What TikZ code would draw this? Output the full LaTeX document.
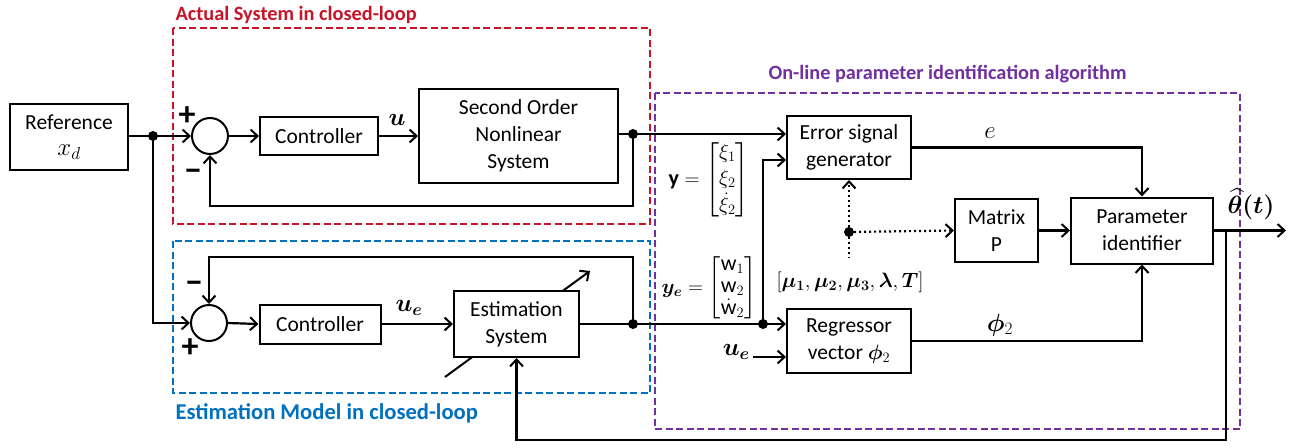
\documentclass[tikz,border=0pt]{standalone}
\usepackage{amsmath,bm}
\usepackage{fontspec}
\setmainfont{Carlito}
\usetikzlibrary{arrows.meta}
\definecolor{actred}{RGB}{200,20,40}
\definecolor{estblue}{RGB}{0,112,192}
\definecolor{idpurple}{RGB}{112,48,160}
\begin{document}
\begin{tikzpicture}[x=1pt,y=-1pt,
  font=\fontsize{21.5}{27}\selectfont,
  blk/.style={draw, line width=2pt, fill=white, align=center, inner sep=0pt},
  sumc/.style={draw, circle, line width=2pt, minimum size=36pt, inner sep=0pt},
  wire/.style={line width=2.2pt},
  arr/.style={wire, -{Straight Barb[length=7pt,width=13pt,line width=2pt]}},
  dotwire/.style={line width=2.2pt, dash pattern=on 2pt off 3pt},
  dotarr/.style={dotwire, -{Straight Barb[length=7pt,width=13pt,line width=2pt]}},
  jdot/.style={circle, fill, inner sep=0pt, minimum size=10pt},
  dbox/.style={line width=2pt, dash pattern=on 7pt off 3.5pt},
  title/.style={anchor=west, font=\bfseries},
  lbl/.style={inner sep=0pt},
  mlbl/.style={inner sep=0pt, font=\fontsize{25}{30}\selectfont}]
\useasboundingbox (0,0) rectangle (1300,447);

% dashed group boxes
\draw[dbox, actred] (173,28) rectangle (650,224);
\draw[dbox, estblue] (173,241) rectangle (650,393);
\draw[dbox, idpurple] (655,93) rectangle (1240,429);
\node[title, text=actred, font=\bfseries\fontsize{20.3}{24}\selectfont] (tact) at (172,15) {Actual System in closed-loop};
\node[title, text=estblue, font=\bfseries\fontsize{22.6}{26}\selectfont] (test) at (172,413) {Estimation Model in closed-loop};
\node[title, text=idpurple, font=\bfseries\fontsize{20.3}{24}\selectfont] (tid) at (765,74) {On-line parameter identification algorithm};

% upper loop blocks
\node[blk, minimum width=118pt, minimum height=66pt] (ref) at (69,137) {Reference\\[-1pt]{\fontsize{25}{25}\selectfont$x_d$}};
\node[sumc] (sum1) at (210,136) {};
\node[blk, minimum width=118pt, minimum height=38pt] (ctrl1) at (319,136) {Controller};
\node[blk, minimum width=199pt, minimum height=94pt] (plant) at (518.5,136) {Second Order\\Nonlinear\\System};
\node[lbl] (plus1) at (187,116) {\fontsize{34}{34}\selectfont\textbf{+}};
\node[lbl] (minus1) at (193,175) {\fontsize{34}{34}\selectfont\textbf{−}};

% lower loop blocks
\draw[line width=2pt, -{Straight Barb[length=7pt,width=13pt,line width=2pt]}] (445,377) -- (590,271);
\node[sumc] (sum2) at (209,323) {};
\node[blk, minimum width=121pt, minimum height=39pt] (ctrl2) at (320,324) {Controller};
\node[blk, minimum width=125pt, minimum height=66pt] (est) at (516.5,324) {Estimation\\System};
\node[lbl] (minus2) at (194,287) {\fontsize{34}{34}\selectfont\textbf{−}};
\node[lbl] (plus2) at (190,348) {\fontsize{34}{34}\selectfont\textbf{+}};

% identification blocks
\node[blk, minimum width=124pt, minimum height=63pt] (err) at (849,147.5) {Error signal\\generator};
\node[blk, minimum width=124pt, minimum height=64pt] (reg) at (849,341) {Regressor\\vector $\bm{\phi}_2$};
\node[blk, minimum width=83pt, minimum height=63pt] (matP) at (996.5,230.5) {Matrix\\P};
\node[blk, minimum width=142pt, minimum height=66pt] (pid) at (1142,230.5) {Parameter\\identifier};

% junctions
\node[jdot] (j1) at (153,136) {};
\node[jdot] (j2) at (633,134) {};
\node[jdot] (j3) at (633,324) {};
\node[jdot] (j4) at (763,324) {};
\node[jdot] (j5) at (849,232) {};

% upper loop connectors
\draw[arr] (ref.east |- j1) -- (sum1.west);
\draw[arr] (sum1.east) -- (ctrl1.west);
\draw[arr] (ctrl1.east) -- (plant.west);
\node[mlbl] (ulab) at (397,120) {$\bm{u}$};
\draw[wire] (plant.east |- j2) -- (j2.center);
\draw[arr] (j2.center) -- (err.west |- j2);
\draw[arr] (j2.center) -- (633,206) -| (sum1.south);

% lower loop connectors
\draw[arr] (j1.center) |- (sum2.west);
\draw[arr] (sum2.east) -- (ctrl2.west);
\draw[arr] (ctrl2.east) -- (est.west);
\node[mlbl] (uelab) at (409,308) {$\bm{u_e}$};
\draw[wire] (est.east) -- (j4.center);
\draw[arr] (j3.center) -- (633,257) -| (sum2.north);
\draw[arr] (j4.center) -- (reg.west |- j4);
\draw[arr] (j4.center) -- (763,160) -- (err.west |- 0,160);

% regressor second input
\coordinate (uein) at (753,357);
\draw[arr] (uein) -- (reg.west |- uein);
\node[mlbl, anchor=east] (uelab2) at (750,352) {$\bm{u_e}$};

% vector labels
\node[lbl, font=\fontsize{22}{26}\selectfont] (yvec) at (709,180) {$\mathbf{y}=\begin{bmatrix}\xi_1\\ \xi_2\\ \dot{\xi}_2\end{bmatrix}$};
\node[lbl, font=\fontsize{22}{26}\selectfont] (yevec) at (709,288) {\renewcommand\arraystretch{0.85}$\bm{y_e}=\begin{bmatrix}\mathrm{w}_1\\ \mathrm{w}_2\\ \dot{\mathrm{w}}_2\end{bmatrix}$};

% dotted parameter lines
\draw[dotarr] (j5.center) -- (err.south);
\draw[dotarr] (j5.center) -- (matP.west);
\draw[dotwire] (j5.center) -- (849,258);
\node[lbl, font=\fontsize{20.5}{24}\selectfont] (params) at (850,282) {$[\bm{\mu_1},\bm{\mu_2},\bm{\mu_3},\bm{\lambda},\bm{T}]$};

% identification connectors
\draw[arr] (err.east) -| (pid.north);
\node[mlbl] (elab) at (990,133) {$e$};
\draw[arr] (reg.east) -| (pid.south);
\node[mlbl] (philab) at (1000,325) {$\bm{\phi}_2$};
\draw[arr] (matP.east) -- (pid.west);
\coordinate (out) at (1286,230.5);
\draw[arr] (pid.east) -- (out);
\node[mlbl] (thlab) at (1251,204) {$\widehat{\bm{\theta}}\bm{(t)}$};
\coordinate (fb) at (1226,230.5);
\draw[arr] (fb) -- (1226,440) -| (est.south);
\end{tikzpicture}
\end{document}
